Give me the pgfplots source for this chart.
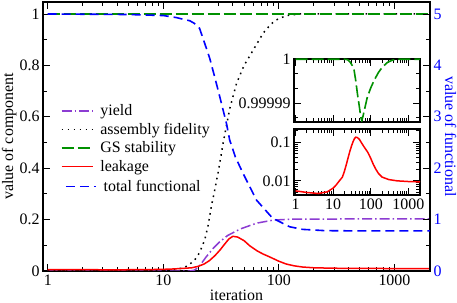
\documentclass[border=0pt]{standalone}
\usepackage{fontspec}
\setmainfont{Liberation Serif}
\usepackage{pgfplots}
\usepackage{pgfplotstable}
\pgfplotsset{compat=1.18}
\definecolor{cpurple}{RGB}{140,60,210}
\definecolor{cgreen}{RGB}{0,145,0}
\newcommand{\fs}{\fontsize{16}{19}\selectfont}
\tikzset{
  styield/.style={line width=1.5bp, draw=cpurple, dash pattern=on 10bp off 3bp on 1.5bp off 3bp},
  stfid/.style={line width=1.5bp, draw=black, dash pattern=on 1.6bp off 4.4bp},
  stgs/.style={line width=1.6bp, draw=cgreen, dash pattern=on 12bp off 4bp},
  stleak/.style={line width=1.5bp, draw=red},
  stfun/.style={line width=1.6bp, draw=blue, dash pattern=on 9bp off 5bp}}
\pgfplotsset{every axis/.append style={scale only axis,
    tick align=inside, major tick length=7bp, minor tick length=4bp,
    font=\fs, tick label style={font=\fs},
    axis line style={line width=1.1bp},
    every tick/.append style={line width=0.8bp, black}}}

% fidelity
\pgfplotstableread{
x y
1 0
5 0.0005
10 0.003
12.5 0.006
14.8 0.012
16.5 0.022
18.7 0.043
20.5 0.07
22.8 0.12
24.5 0.18
26 0.25
28 0.32
30 0.39
33 0.50
37.5 0.63
43 0.73
50 0.80
60 0.86
73 0.925
85 0.96
95 0.977
116 0.994
150 1.0
2030 1.0
}\fidelity
\pgfplotstableread{
x y
1 0
17 0
18.5 0.003
19.5 0.01
21 0.025
23.5 0.055
27 0.088
31 0.115
36 0.138
46 0.163
64 0.186
89 0.198
130 0.202
2030 0.203
}\yield
\pgfplotstableread{
x y
1 0.0055
2 0.005
4 0.0047
7 0.0052
10 0.0065
12 0.0078
14 0.0095
17.6 0.0125
20 0.018
22.5 0.027
25 0.040
28 0.060
31 0.082
34 0.105
37 0.125
40 0.135
44 0.132
50 0.118
56 0.098
65 0.078
73 0.066
83 0.055
100 0.038
116 0.027
136 0.020
160 0.0155
200 0.0125
300 0.0108
500 0.0100
1000 0.0096
2030 0.0094
}\leakage
\pgfplotstableread{
x y
1 5.0
5 4.99
10 4.97
13 4.93
15.3 4.89
16.9 4.87
18.5 4.82
20.6 4.72
22.8 4.43
25.2 4.14
27.8 3.78
30.8 3.39
35.2 2.87
37.5 2.55
42 2.22
48.7 1.91
64 1.38
88 1.03
124 0.86
160 0.81
250 0.785
500 0.78
2030 0.78
}\functional
% GS stability, as (value - 1) in units of 1e-5
\pgfplotstableread{
x y
1 0
20 0
24 -0.01
28 -0.06
32 -0.14
36 -0.25
40 -0.50
44 -0.78
50 -1.10
54 -1.31
57.5 -1.40
62 -1.30
70 -1.10
81 -0.86
100 -0.65
123 -0.48
160 -0.30
205 -0.175
280 -0.07
380 -0.02
500 0
2030 0
}\gs
\pgfplotstableread{
x y
1 1
2030 1
}\gsmain

\begin{document}
\begin{tikzpicture}
\path[use as bounding box] (0,0) rectangle (457bp,303bp);
\begin{axis}[xmode=log, xmin=0.91, xmax=2030,
  xtick={1,10,100,1000}, xticklabels={1,10,100,1000},
  minor xtick={2,3,4,5,6,7,8,9,20,30,40,50,60,70,80,90,200,300,400,500,600,700,800,900,2000},
  at={(43bp,32bp)}, anchor=south west, width=387bp, height=269bp,
  ymin=0, ymax=1.0467, ytick={0,0.2,0.4,0.6,0.8,1}, yticklabels={0,0.2,0.4,0.6,0.8,1},
  minor ytick={0.1,0.3,0.5,0.7,0.9}, ytick pos=left, xtick pos=both,
  xlabel={iteration}, ylabel={value of component},
  xlabel style={at={(axis description cs:0.5,0)}, anchor=base, yshift=-29.5bp},
  ylabel style={at={(axis description cs:-0.0775,0.5)}, anchor=base},
  legend style={draw=none, fill=none, at={(axis description cs:0.038,0.630)}, anchor=north west,
    font=\fs, row sep=3.9bp, column sep=6bp, nodes={inner sep=1bp}},
  legend cell align=left,
  legend image code/.code={\draw[mark repeat=2,mark phase=2,line width=1.5bp,#1] plot coordinates {(0bp,0bp) (15.5bp,0bp) (31bp,0bp)};}]
\addlegendimage{draw=cpurple, dash pattern=on 10bp off 3bp on 1.5bp off 3bp}
\addlegendentry{yield}
\addlegendimage{draw=black, dash pattern=on 1.6bp off 4.4bp}
\addlegendentry{assembly fidelity}
\addlegendimage{draw=cgreen, dash pattern=on 12bp off 4bp}
\addlegendentry{GS stability}
\addlegendimage{draw=red, solid}
\addlegendentry{leakage}
\addplot[styield, forget plot] table {\yield};
\addplot[stfid, forget plot] table {\fidelity};
\addplot[stgs, forget plot] table {\gsmain};
\addplot[stleak, forget plot] table {\leakage};
\end{axis}
\begin{axis}[xmode=log, xmin=0.91, xmax=2030,
  at={(43bp,32bp)}, anchor=south west, width=387bp, height=269bp,
  axis x line=none, axis y line*=right, ymin=0, ymax=5.2335,
  ytick={0,1,2,3,4,5}, yticklabels={0,1,2,3,4,5}, minor ytick={0.5,1.5,2.5,3.5,4.5},
  y tick label style={blue}, ylabel={value of functional},
  ylabel style={blue, at={(axis description cs:1.0388,0.5)}, anchor=base, rotate=180},
  legend style={draw=none, fill=none, at={(axis description cs:0.049,0.35)}, anchor=north west,
    font=\fs, column sep=6bp, nodes={inner sep=1bp}},
  legend image code/.code={\draw[mark repeat=2,mark phase=2,line width=1.5bp,#1] plot coordinates {(0bp,0bp) (15bp,0bp) (30bp,0bp)};}]
\addlegendimage{draw=blue, dash pattern=on 9bp off 5bp}
\addlegendentry{total functional}
\addplot[stfun, forget plot] table {\functional};
\end{axis}
\begin{axis}[xmode=log, xmin=0.91, xmax=2030,
  xtick={1,10,100,1000},
  minor xtick={2,3,4,5,6,7,8,9,20,30,40,50,60,70,80,90,200,300,400,500,600,700,800,900,2000},
  at={(294bp,181bp)}, anchor=south west, width=126bp, height=63bp,
  axis background/.style={fill=white},
  ymin=-1.43, ymax=0.005, ytick={-1,0}, yticklabels={0.99999,1},
  minor ytick={-1.3333,-0.6667,-0.3333}, xticklabels={}, xtick pos=both, ytick pos=both]
\addplot[stgs] table {\gs};
\end{axis}
\begin{axis}[xmode=log, xmin=0.91, xmax=2030,
  xtick={1,10,100,1000}, xticklabels={1,10,100,1000},
  minor xtick={2,3,4,5,6,7,8,9,20,30,40,50,60,70,80,90,200,300,400,500,600,700,800,900,2000},
  at={(294bp,108bp)}, anchor=south west, width=126bp, height=66bp,
  axis background/.style={fill=white}, ymode=log,
  ymin=0.0043, ymax=0.22, ytick={0.01,0.1}, yticklabels={0.01,0.1},
  minor ytick={0.005,0.006,0.007,0.008,0.009,0.02,0.03,0.04,0.05,0.06,0.07,0.08,0.09,0.2},
  xtick pos=both, ytick pos=both]
\addplot[stleak] table {\leakage};
\end{axis}
\end{tikzpicture}
\end{document}
